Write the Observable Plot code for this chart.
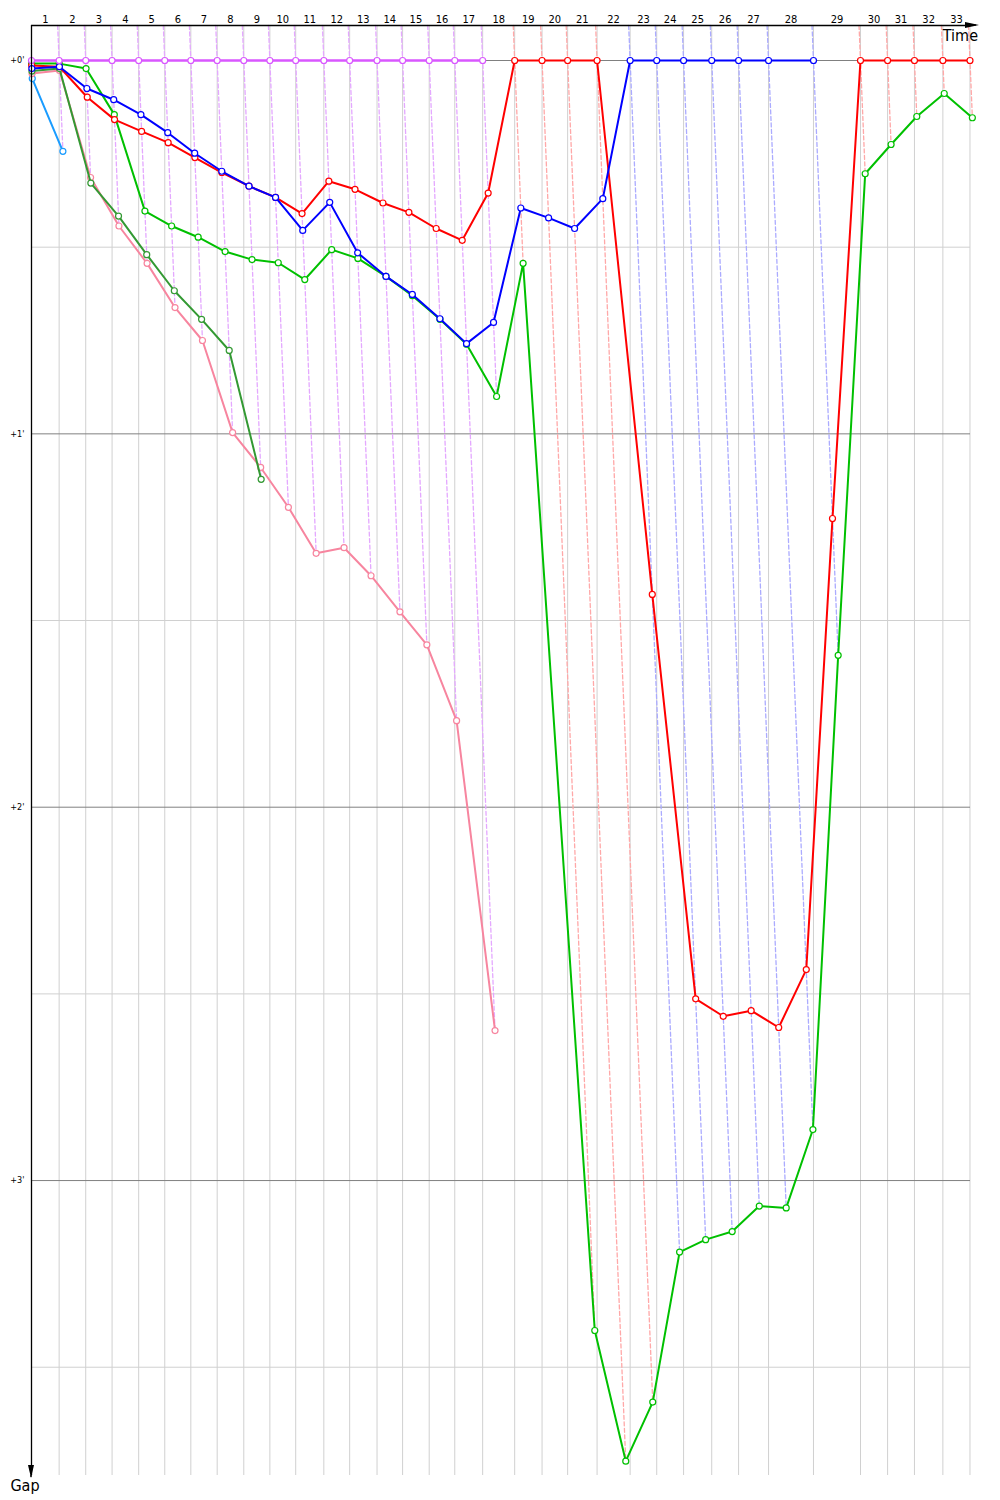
<!DOCTYPE html>
<html><head><meta charset="utf-8">
<script src="https://cdn.jsdelivr.net/npm/d3@7"></script>
<script src="https://cdn.jsdelivr.net/npm/@observablehq/plot@0.6"></script>
<style>body{margin:0;background:#fff} svg{display:block}</style>
</head><body><div id="chart"></div>
<script>
// leader's time (s) at each timing point (lap 0..33)
const lapTimes = [0,107,210,312,415,516,617,719,822,923,1023,1132,1232,1338,1437,1540,1639,1747,1871,1977,2076,2190,2318,2421,2525,2634,2738,2854,3028,3210,3315,3419,3529,3634];
const lapLabels = d3.range(1, 34);
const gapTicks = [0, 60, 120, 180];
const halfTicks = [30, 90, 150, 210];

// gap to leader (s) per lap, starting from lap 0
const riders = ["lightblue","pink","darkgreen","green","red","blue","violet"];
const gapsViolet = [0,0,0,0,0,0,0,0,0,0,0,0,0,0,0,0,0,0];
const gapsRed = [0.8,1.0,5.9,9.5,11.4,13.2,15.6,18.0,20.2,22.0,24.6,19.4,20.7,22.9,24.4,27.0,28.9,21.3,0,0,0,0,85.8,150.8,153.6,152.7,155.4,146.1,73.6,0,0,0,0,0];
const gapsBlue = [1.3,1.0,4.5,6.3,8.7,11.6,14.9,17.8,20.2,22.0,27.3,22.8,30.9,34.7,37.6,41.5,45.5,42.1,23.7,25.3,27.0,22.2,0,0,0,0,0,0,0];
const gapsGreen = [0.5,0.5,1.3,8.7,24.2,26.6,28.4,30.7,32.0,32.5,35.2,30.4,31.8,34.7,37.8,41.6,45.6,54.0,32.6,204.1,225.1,215.6,191.5,189.5,188.2,184.1,184.4,171.8,95.6,18.2,13.5,9.0,5.3,9.2];
const gapsDarkGreen = [1.7,1.3,19.7,25.0,31.2,37.0,41.6,46.6,67.3];
const gapsPink = [2.1,1.6,18.8,26.6,32.6,39.7,45.0,59.8,65.4,71.8,79.2,78.3,82.8,88.6,93.9,106.1,155.9];
const gapsLightBlue = [2.9,14.6];

const gapsByRider = {violet: gapsViolet, red: gapsRed, blue: gapsBlue, green: gapsGreen, darkgreen: gapsDarkGreen, pink: gapsPink, lightblue: gapsLightBlue};
const lineColor = {violet:"#d957ff", red:"#ff0000", blue:"#0000ff", green:"#00c000", darkgreen:"#339933", pink:"#f7859f", lightblue:"#1a9cff"};
const dashColor = {violet:"#e4a8ff", red:"#ffa8a8", blue:"#ababff"};

const rows = [];
for (const r of riders) gapsByRider[r].forEach((g, lap) => rows.push({rider: r, lap, gap: g, time: lapTimes[lap] + g}));

const yTop = -5.625, yBottom = 227.4;
const dashRows = [];
for (let k = 1; k < lapTimes.length; k++) {
  const at = rows.filter(d => d.lap === k);
  const leader = at.find(d => d.gap === 0).rider;
  const maxGap = d3.max(at, d => d.gap);
  dashRows.push({lap: k, leader, g: yTop, t: lapTimes[k] + yTop});
  dashRows.push({lap: k, leader, g: maxGap, t: lapTimes[k] + maxGap});
}

const marks = [
  Plot.ruleX(lapTimes.slice(1), {stroke: "#d0d0d0", strokeWidth: 1}),
  Plot.ruleY(halfTicks, {stroke: "#d0d0d0", strokeWidth: 1}),
  Plot.ruleY(gapTicks, {stroke: "#808080", strokeWidth: 1}),
];
for (const l of ["violet","red","blue"]) {
  marks.push(Plot.line(dashRows.filter(d => d.leader === l), {x: "t", y: "g", z: "lap", stroke: dashColor[l], strokeWidth: 1.3, strokeDasharray: "4,2.5"}));
}
for (const r of riders) {
  const data = rows.filter(d => d.rider === r);
  marks.push(Plot.line(data, {x: "time", y: "gap", stroke: lineColor[r], strokeWidth: r === "violet" ? 2.4 : 2}));
  marks.push(Plot.dot(data, {x: "time", y: "gap", stroke: lineColor[r], fill: "white", r: 3, strokeWidth: 1.2}));
}
marks.push(
  Plot.text(lapLabels, {x: k => (lapTimes[k-1] + lapTimes[k]) / 2, frameAnchor: "top", lineAnchor: "bottom", dy: -3, text: k => String(k), fontSize: 11, fill: "#000"}),
  Plot.axisY({ticks: gapTicks, tickFormat: d => `+${d/60}'`, tickSize: 0, tickPadding: 7, fontSize: 9, label: null}),
  Plot.ruleX([0], {stroke: "#000", strokeWidth: 1.3}),
  Plot.ruleY([yTop], {stroke: "#000", strokeWidth: 1.3})
);

const chart = Plot.plot({
  width: 1000, height: 1500,
  marginLeft: 31, marginRight: 30, marginTop: 25, marginBottom: 25,
  x: {domain: [0, 3636], axis: null},
  y: {domain: [yTop, yBottom], reverse: true, axis: null},
  style: {fontFamily: "'DejaVu Sans Condensed', 'DejaVu Sans', sans-serif", background: "#fff", overflow: "visible"},
  marks
});
document.getElementById("chart").appendChild(chart);

// axis arrows and titles
const svg = d3.select(chart);
const x0 = chart.scale("x").apply(0), yT = chart.scale("y").apply(yTop), yB = chart.scale("y").apply(yBottom);
svg.append("line").attr("x1", 970).attr("x2", 970 + 6).attr("y1", yT).attr("y2", yT).attr("stroke", "#000").attr("stroke-width", 1.3);
svg.append("path").attr("d", `M965,${yT-3}L979,${yT}L965,${yT+3}Z`).attr("fill", "#000");
svg.append("line").attr("x1", x0).attr("x2", x0).attr("y1", yB).attr("y2", yB + 2).attr("stroke", "#000").attr("stroke-width", 1.3);
svg.append("path").attr("d", `M${x0-3},${yB-10}L${x0},${yB+3}L${x0+3},${yB-10}Z`).attr("fill", "#000");
svg.append("text").attr("x", 978).attr("y", 41).attr("text-anchor", "end").attr("font-size", 16).text("Time");
svg.append("text").attr("x", 25).attr("y", 1491).attr("text-anchor", "middle").attr("font-size", 16).text("Gap");
</script>
</body></html>
